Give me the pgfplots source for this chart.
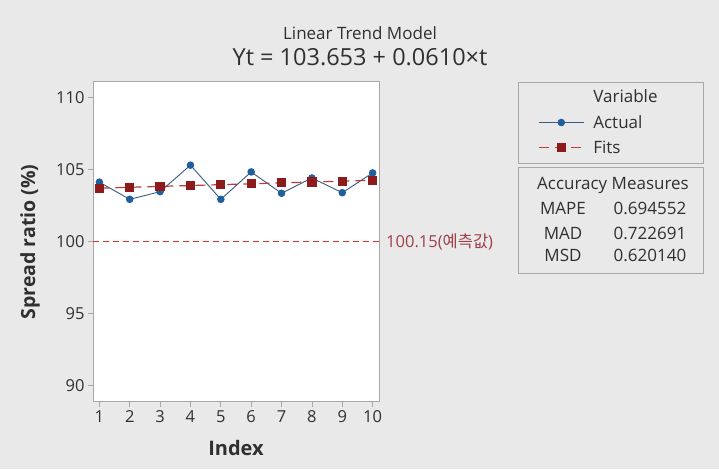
\documentclass[border=0pt]{standalone}
\usepackage{fontspec}
\setmainfont{Open Sans}
\newfontfamily\kr{Noto Sans CJK KR}
\usepackage{pgfplots}
\pgfplotsset{compat=1.18}
\definecolor{bgc}{HTML}{E9E9E9}
\definecolor{frame}{HTML}{A8A8A8}
\definecolor{actblue}{HTML}{1F5F9E}
\definecolor{actline}{HTML}{3A5A80}
\definecolor{fitred}{HTML}{8E1B1B}
\definecolor{fitline}{HTML}{B83A3A}
\definecolor{reflc}{HTML}{DA3030}
\definecolor{labred}{HTML}{A04048}
\definecolor{txt}{HTML}{303030}
\begin{document}
\begin{tikzpicture}[x=1pt,y=1pt]
\fill[bgc] (0,0) rectangle (719,469);
\node[font=\fontsize{17}{19}\selectfont, text=txt] at (360,436) {Linear Trend Model};
\node[font=\fontsize{23.5}{26}\selectfont, text=txt] at (360,412) {Yt = 103.653 + 0.0610×t};
\node[font=\bfseries\fontsize{20}{22}\selectfont, text=txt] at (236,21) {Index};
\node[font=\bfseries\fontsize{19.5}{22}\selectfont, text=txt, rotate=90] at (30,227) {Spread ratio (\%)};
\draw[frame, line width=0.8pt, fill=bgc] (518,306) rectangle (703,387);
\begin{axis}[
  at={(93pt,67.3pt)}, anchor=south west, scale only axis,
  width=286pt, height=320pt,
  xmin=0.79, xmax=10.21, ymin=88.9, ymax=111.1,
  xtick={1,2,3,4,5,6,7,8,9,10}, ytick={90,95,100,105,110},
  xtick pos=bottom, ytick pos=left, tick align=outside,
  major tick length=5pt,
  axis line style={frame, line width=0.8pt},
  tick style={frame, line width=0.8pt},
  axis background/.style={fill=white},
  ticklabel style={font=\fontsize{16.5}{18}\selectfont, text=txt},
  /pgf/number format/assume math mode=true,
  clip=false,
  legend image code/.code={\draw[mark repeat=2,mark phase=2,#1] plot coordinates {(0pt,0pt) (22.5pt,0pt) (45pt,0pt)};},
  legend style={at={(axis description cs:1.486,1.0)}, anchor=north west,
    xshift=4pt, yshift=-4pt,
    draw=none, fill=none, font=\fontsize{17}{20}\selectfont, text=txt,
    row sep=7pt, inner xsep=16pt, inner ysep=2pt},
  legend cell align=left,
]
\addlegendimage{empty legend}
\addlegendentry{\hspace*{7pt}Variable}
\addplot[actline, line width=0.9pt, mark=*, mark size=3.3pt,
  mark options={fill=actblue, draw=actblue}] coordinates {
  (1,104.13) (2,102.94) (3,103.47) (4,105.31) (5,102.94)
  (6,104.84) (7,103.36) (8,104.42) (9,103.40) (10,104.77)};
\addlegendentry{\hspace*{7pt}Actual}
\addplot[dash pattern=on 10pt off 6pt, line width=1.2pt, color=fitline, mark=square*, mark size=4pt,
  mark options={solid, fill=fitred, draw=fitred}] coordinates {
  (1,103.714) (2,103.775) (3,103.836) (4,103.897) (5,103.958)
  (6,104.019) (7,104.080) (8,104.141) (9,104.202) (10,104.263)};
\addlegendentry{\hspace*{7pt}Fits}
\addplot[dash pattern=on 6pt off 4pt, line width=1.3pt, draw=reflc, no marks, forget plot] coordinates {(0.79,100) (10.21,100)};
\node[anchor=west, inner sep=0pt, xshift=7pt, text=labred, font=\fontsize{16.5}{18}\selectfont] at (axis cs:10.21,100) {100.15({\kr 예측값})};
\end{axis}
\draw[frame, line width=0.8pt, fill=bgc] (518,196) rectangle (703,302);
\begin{scope}[every node/.style={font=\fontsize{17}{20}\selectfont, text=txt}]
\node at (613,284) {Accuracy Measures};
\node at (563,261) {MAPE};
\node at (563,236) {MAD};
\node at (563,214) {MSD};
\node at (650,261) {0.694552};
\node at (650,236) {0.722691};
\node at (650,214) {0.620140};
\end{scope}
\end{tikzpicture}
\end{document}
